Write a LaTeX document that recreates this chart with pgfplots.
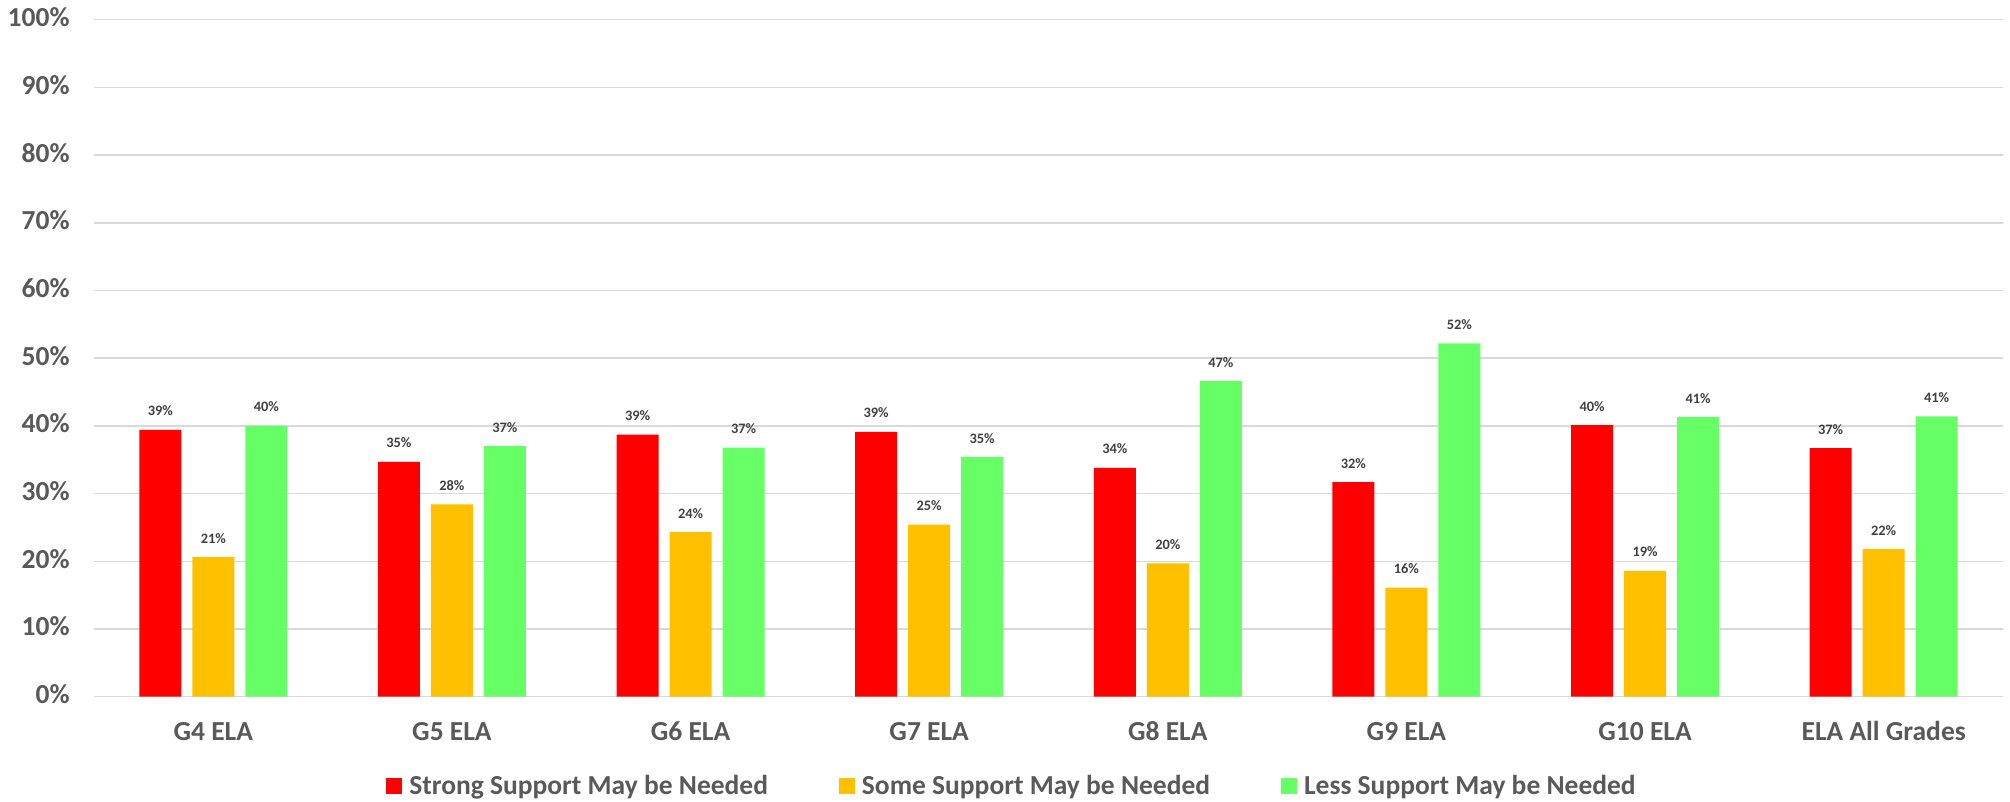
\documentclass[border=0pt]{standalone}
\usepackage{fontspec}
\setmainfont{Carlito}
\usepackage{pgfplots}
\usepackage{pgfplotstable}
\pgfplotsset{compat=1.18}
\definecolor{cRed}{HTML}{FF0000}
\definecolor{cYel}{HTML}{FFC000}
\definecolor{cGrn}{HTML}{66FF66}
\definecolor{cTxt}{HTML}{595959}
\definecolor{cLbl}{HTML}{404040}
\definecolor{cGrid}{HTML}{D9D9D9}
\newcommand\mainfs{\bfseries\fontsize{13.75pt}{16pt}\selectfont}
\newcommand\lblfs{\bfseries\fontsize{7.2pt}{9pt}\selectfont}

\pgfplotstableread{
x strong some less
0 39.4 20.6 40.0
1 34.7 28.4 37.0
2 38.7 24.3 36.8
3 39.1 25.4 35.4
4 33.8 19.7 46.6
5 31.7 16.1 52.2
6 40.1 18.6 41.3
7 36.7 21.8 41.4
}\datatable

\begin{document}
\begin{tikzpicture}
\path[use as bounding box] (0,0) rectangle (1005pt,401pt);
\begin{axis}[
  at={(47pt,52.65pt)}, anchor=south west,
  scale only axis, width=954.5pt, height=338.5pt,
  ybar=5.5pt, bar width=21pt,
  xmin=-0.5, xmax=7.5, ymin=0, ymax=100,
  clip=false,
  xtick={0,1,2,3,4,5,6,7},
  xticklabels={G4 ELA,G5 ELA,G6 ELA,G7 ELA,G8 ELA,G9 ELA,G10 ELA,ELA All Grades},
  ytick={0,10,...,100},
  yticklabel={\pgfmathprintnumber{\tick}\%},
  /pgf/number format/assume math mode=true,
  ymajorgrids, grid style={cGrid, line width=0.75pt},
  axis line style={draw=none},
  major tick length=0pt, tick style={draw=none},
  ticklabel style={font=\mainfs, text=cTxt},
  xticklabel style={anchor=base, inner sep=0pt, yshift=-22.15pt},
  yticklabel style={anchor=base east, inner sep=0pt, xshift=-12pt, yshift=-3.5pt},
  nodes near coords={\pgfmathprintnumber[fixed,precision=0]{\pgfplotspointmeta}\%},
  every node near coord/.append style={font=\lblfs, text=cLbl, anchor=base, inner sep=0pt, yshift=7pt},
  legend columns=3,
  legend style={at={(0.4814,-0.1319)}, anchor=center, draw=none, fill=none,
    font=\mainfs, text=cTxt,
    /tikz/every odd column/.append style={column sep=1.5pt},
    /tikz/every even column/.append style={column sep=33.5pt}},
  legend image code/.code={\fill[#1] (0pt,-4pt) rectangle (8pt,4pt);},
]
\addplot[fill=cRed, draw=none] table[x=x, y=strong] {\datatable};
\addplot[fill=cYel, draw=none] table[x=x, y=some] {\datatable};
\addplot[fill=cGrn, draw=none] table[x=x, y=less] {\datatable};
\legend{Strong Support May be Needed, Some Support May be Needed, Less Support May be Needed}
\end{axis}
\end{tikzpicture}
\end{document}
